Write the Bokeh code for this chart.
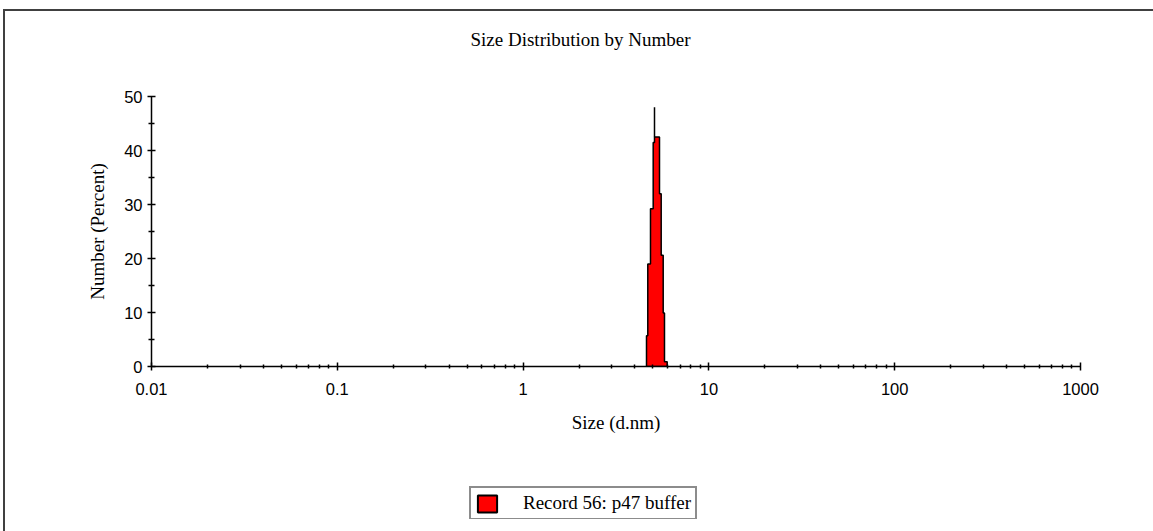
import numpy as np
from bokeh.plotting import figure
from bokeh.models import (Range1d, FixedTicker, Title, Legend, LegendItem)
from bokeh.embed import file_html
from bokeh.resources import INLINE

# ---------------- data ----------------
title_text = "Size Distribution by Number"
x_label = "Size (d.nm)"
y_label = "Number (Percent)"
series_name = "Record 56: p47 buffer"

bin_edges = [4.615, 4.689, 4.849, 5.014, 5.096, 5.422, 5.537, 5.676, 5.768, 5.964]
bin_values = [5.7, 19.0, 29.2, 41.5, 42.5, 32.0, 20.6, 9.9, 0.9]
peak_size = 5.096
peak_value = 48.0

x_ticks = [0.01, 0.1, 1, 10, 100, 1000]
x_tick_labels = ["0.01", "0.1", "1", "10", "100", "1000"]
y_ticks = [0, 10, 20, 30, 40, 50]
y_minor_ticks = [5, 15, 25, 35, 45]

# ---------------- main figure ----------------
SERIF = "Liberation Serif"
SANS = "Liberation Sans"

p = figure(width=1148, height=520, frame_width=929, frame_height=270,
           x_axis_type="log",
           x_range=Range1d(0.01, 1000), y_range=Range1d(0, 50),
           output_backend="svg", toolbar_location=None,
           min_border_left=146, min_border_right=73,
           min_border_top=85, min_border_bottom=165)
p.title.text = ""
p.grid.visible = False
p.outline_line_color = None
p.background_fill_color = "white"
p.border_fill_color = "white"
p.styles = {"margin-left": "3px", "margin-top": "9px",
            "border-left": "2px solid #404040",
            "border-top": "2px solid #404040"}

edges = np.array(bin_edges)
vals = np.array(bin_values)
xs = np.concatenate([[edges[0]], np.repeat(edges, 2)[1:-1], [edges[-1]]])
ys = np.concatenate([[0], np.repeat(vals, 2), [0]])
p.patch(xs, ys, fill_color="#ff0000", line_color="black", line_width=1.5)

idx = np.searchsorted(edges, peak_size) - 1
base = max(vals[max(idx, 0)], vals[min(idx + 1, len(vals) - 1)])
p.segment(x0=[peak_size], y0=[base], x1=[peak_size], y1=[peak_value],
          line_color="black", line_width=1.5)

# ---------------- axes ----------------
xminor = [m * t for t in x_ticks[:-1] for m in range(2, 10)]
xa = p.xaxis[0]
xa.ticker = FixedTicker(ticks=x_ticks, minor_ticks=xminor)
xa.major_label_overrides = {t: l for t, l in zip(x_ticks, x_tick_labels)}
ya = p.yaxis[0]
ya.ticker = FixedTicker(ticks=y_ticks, minor_ticks=y_minor_ticks)

for ax in (xa, ya):
    ax.axis_line_color = "black"
    ax.axis_line_width = 1.5
    ax.major_tick_line_color = "black"
    ax.minor_tick_line_color = "black"
    ax.major_tick_line_width = 1.5
    ax.minor_tick_line_width = 1.5
    ax.major_tick_in = 4
    ax.major_tick_out = 4
    ax.major_label_text_font = SANS
    ax.major_label_text_font_size = "16.5px"
    ax.major_label_text_color = "black"
    ax.axis_label_text_font = SERIF
    ax.axis_label_text_font_size = "19px"
    ax.axis_label_text_font_style = "normal"
    ax.axis_label_text_color = "black"

xa.minor_tick_in = 2
xa.minor_tick_out = 2
ya.minor_tick_in = 3
ya.minor_tick_out = 3
xa.major_label_standoff = 12
ya.major_label_standoff = 5
xa.axis_label = x_label
ya.axis_label = y_label
xa.axis_label_standoff = 14
ya.axis_label_standoff = 13

# ---------------- title (spacer + title in the top panel) ----------------
spacer = Title(text=" ", text_font_size="10px", standoff=32)
p.add_layout(spacer, "above")
title = Title(text=title_text, align="left", offset=319, vertical_align="top",
              standoff=0, text_font=SERIF, text_font_size="19px",
              text_font_style="normal", text_color="black")
p.add_layout(title, "above")

# ---------------- legend (separate small figure, placed over the page) ----------------
p2 = figure(width=250, height=34, x_range=Range1d(0, 1), y_range=Range1d(0, 1),
            output_backend="svg", toolbar_location=None,
            x_axis_location=None, y_axis_location=None,
            min_border=0, min_border_left=0, min_border_right=0,
            min_border_top=0, min_border_bottom=0)
p2.title.text = ""
p2.grid.visible = False
p2.outline_line_color = None
p2.background_fill_alpha = 0
p2.border_fill_alpha = 0
p2.styles = {"position": "absolute", "left": "468px", "top": "485px"}

legend_src = p2.quad(left=[np.nan], right=[np.nan], top=[np.nan], bottom=[np.nan],
                     fill_color="#ff0000", line_color="black", line_width=2)

legend = Legend(items=[LegendItem(label=series_name, renderers=[legend_src])],
                location="top_left", margin=1, padding=4,
                glyph_width=24, glyph_height=21, label_standoff=24,
                label_text_font=SERIF, label_text_font_size="19px",
                label_text_color="black",
                border_line_color="#1a1a1a", border_line_width=2,
                background_fill_color="white", background_fill_alpha=1)
p2.add_layout(legend)

open("out.html", "w").write(file_html([p, p2], INLINE))
